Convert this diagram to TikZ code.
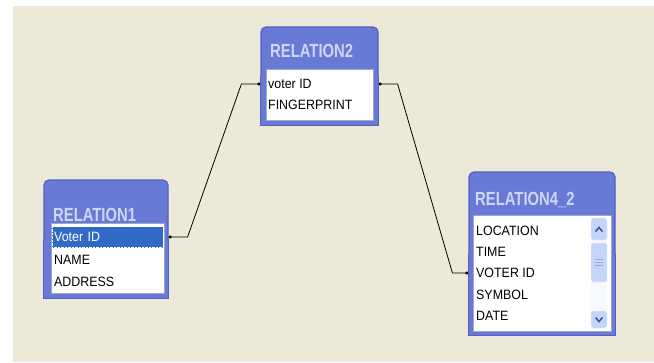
\documentclass[tikz,border=0pt]{standalone}
\usepackage{fontspec}
\setmainfont{Liberation Sans}
\newfontfamily\titlefont{Liberation Sans}[FakeStretch=0.78]
\newfontfamily\rowfont{Liberation Sans}[FakeStretch=0.92]
\usetikzlibrary{arrows.meta,calc}
\definecolor{desk}{RGB}{236,233,216}
\definecolor{tabblue}{RGB}{104,122,214}
\definecolor{tabedge}{RGB}{80,96,196}
\definecolor{tabtitle}{RGB}{206,214,246}
\definecolor{selblue}{RGB}{49,106,197}
\definecolor{listline}{RGB}{160,168,200}
\definecolor{scrollblue}{RGB}{196,212,250}
\definecolor{chevron}{RGB}{60,80,150}

\begin{document}
\begin{tikzpicture}[x=1pt,y=-1pt,
	table node/.style={draw=tabedge,line width=1.2pt,fill=tabblue,rounded corners=5pt,inner sep=0pt},
	table foot/.style={draw=tabedge,line width=1.2pt,fill=tabblue},
	title node/.style={anchor=west,inner sep=0pt,text=tabtitle,font=\titlefont\bfseries\fontsize{19}{19}\selectfont},
	list node/.style={draw=listline,fill=white,inner sep=0pt},
	field node/.style={anchor=west,inner sep=0pt,font=\rowfont\fontsize{13.5}{15}\selectfont},
	link/.style={{Circle[length=3pt]}-{Circle[length=3pt]},line width=0.8pt}]
	
	\useasboundingbox (0,0) rectangle (654,362);
	\fill[white] (0,0) rectangle (654,362);
	\fill[desk] (13,6) rectangle (654,362);
	
	% RELATION1
	\node[table node,minimum width=124pt,minimum height=118pt] (1) at (106,239) {};
	\draw[table foot] (1.west) |- (1.south east) -- (1.east);
	\node[title node] (1t) at (53,215) {RELATION1};
	\node[list node,minimum width=113pt,minimum height=70pt] (1l) at (107.5,258) {};
	\node[field node,fill=selblue,text=white,draw=white,densely dotted,inner xsep=2pt,text width=107pt,minimum height=21pt] (1id) at (52,237) {Voter ID};
	\node[field node] (1n) at (54,260) {NAME};
	\node[field node] (1a) at (54,282) {ADDRESS};
	
	% RELATION2
	\node[table node,minimum width=117pt,minimum height=98pt] (2) at (319.5,76) {};
	\draw[table foot] (2.west) |- (2.south east) -- (2.east);
	\node[title node] (2t) at (270,51) {RELATION2};
	\node[list node,minimum width=107pt,minimum height=51pt] (2l) at (319.5,94.5) {};
	\node[field node] (2id) at (268,84) {voter ID};
	\node[field node] (2f) at (268,105) {FINGERPRINT};
	
	% RELATION4_2
	\node[table node,minimum width=146pt,minimum height=163pt] (3) at (542,253.5) {};
	\draw[table foot] (3.west) |- (3.south east) -- (3.east);
	\node[title node] (3t) at (475,200) {RELATION4\_2};
	\node[list node,minimum width=138pt,minimum height=116pt] (3l) at (542,273) {};
	\node[field node] (3l1) at (476,231) {LOCATION};
	\node[field node] (3ti) at (476,252) {TIME};
	\node[field node] (3id) at (476,273) {VOTER ID};
	\node[field node] (3s) at (476,295) {SYMBOL};
	\node[field node] (3d) at (476,316) {DATE};
	
	% scroll bar
	\fill[white!85!scrollblue] (591,217) rectangle (607,329);
	\draw[fill=scrollblue,draw=white,rounded corners=2pt] (591,218) rectangle (607,240);
	\draw[chevron,line width=1.5pt] (595.5,231.5) -- (599,227.5) -- (602.5,231.5);
	\draw[fill=scrollblue,draw=white,rounded corners=2pt] (591,243) rectangle (607,282);
	\draw[chevron!50,line width=0.6pt] (595,259.5) -- (603,259.5) (595,262.5) -- (603,262.5) (595,265.5) -- (603,265.5);
	\draw[fill=scrollblue,draw=white,rounded corners=2pt] (591,311) rectangle (607,328);
	\draw[chevron,line width=1.5pt] (595.5,317.5) -- (599,321.5) -- (602.5,317.5);
	
	\draw[link] (1.east |- 1id) -- ++(19,0) -- ($(2.west |- 2id)+(-19,0)$) -- (2.west |- 2id);
	\draw[link] (2.east |- 2id) -- ++(19,0) -- ($(3.west |- 3id)+(-16,0)$) -- (3.west |- 3id);
\end{tikzpicture}
\end{document}
